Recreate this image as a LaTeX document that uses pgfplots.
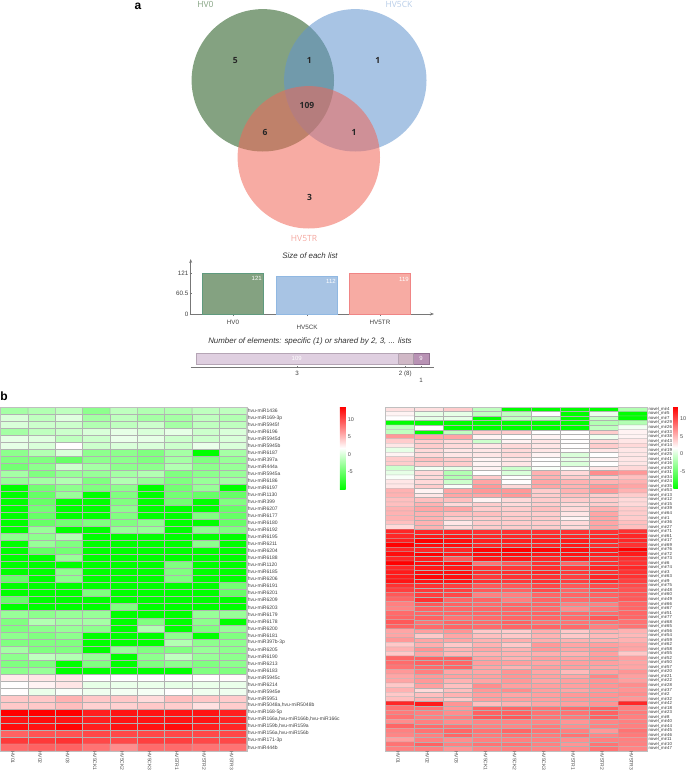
\documentclass[border=0pt]{standalone}
\usepackage{fontspec}
\setmainfont{Liberation Sans}
\newfontfamily\vennfont{Open Sans}
\usepackage{pgfplots}
\pgfplotsset{compat=1.18}
\usetikzlibrary{arrows.meta}
\newcommand\fs[1]{\fontsize{#1}{#1}\selectfont}
\newcommand\nm[1]{novel\_mir#1}
\definecolor{venngreen}{HTML}{1F561A}
\definecolor{vennblue}{HTML}{6194CE}
\definecolor{vennred}{HTML}{F06658}
\definecolor{axisgray}{HTML}{777777}
\definecolor{hvg}{HTML}{84A281}
\definecolor{hvgd}{HTML}{5F9A7E}
\definecolor{hvb}{HTML}{A8C4E4}
\definecolor{hvbd}{HTML}{90B8E2}
\definecolor{hvbl}{HTML}{B8CDE8}
\definecolor{hvr}{HTML}{F7ABA3}
\definecolor{hvrd}{HTML}{F08585}
\definecolor{hvrl}{HTML}{F4A8A0}
\definecolor{seg1}{HTML}{DFCFE0}
\definecolor{seg1d}{HTML}{B5A5B5}
\definecolor{seg2}{HTML}{D0B8C6}
\definecolor{seg2d}{HTML}{A899A5}
\definecolor{seg3}{HTML}{B892B4}
\definecolor{seg3d}{HTML}{907090}
\tikzset{vnum/.style={font=\vennfont\bfseries\fs{8.5}, text=black!85}}
\pgfplotsset{
  colormap={gwr}{rgb255(0cm)=(0,255,0); rgb255(1cm)=(255,255,255); rgb255(2cm)=(255,0,0)},
  venn/.style={only marks, mark=*, mark size=71.2pt, mark options={solid, fill=#1, draw opacity=0, line width=0pt, fill opacity=.55}},
  heatmap/.style={
    scale only axis, anchor=north west, y dir=reverse,
    xmin=-0.5, xmax=8.5,
    colormap name=gwr, point meta min=-10, point meta max=13.5,
    xtick={0,...,8},
    xticklabels={HV01,HV02,HV03,HV5CK1,HV5CK2,HV5CK3,HV5TR1,HV5TR2,HV5TR3},
    xticklabel style={rotate=-90, anchor=west, font=\fs{5}, text=black!70, inner sep=0pt, yshift=-1.5pt},
    yticklabel pos=right,
    yticklabel style={anchor=west, font=\fs{5}, text=black!75, inner sep=0pt, xshift=1pt},
    major tick length=0pt, tick style={draw=none},
    axis line style={draw=gray!50},
    colorbar,
  },
  cbar/.style={
    anchor=north west, height=82.3pt, width=#1,
    ytick={-5,0,5,10}, yticklabels={-5,0,5,10},
    yticklabel style={font=\fs{5.5}, text=black!70, inner sep=0pt, xshift=2pt},
    major tick length=0pt, tick style={draw=none},
    axis line style={draw=none},
  },
}
\begin{document}
\begin{tikzpicture}[x=1pt,y=1pt]
\useasboundingbox (0,0) rectangle (685,-773);

% panel a, venn: circles at pixel positions
\begin{axis}[at={(130pt,0pt)}, anchor=north west, scale only axis, width=340pt, height=250pt,
  xmin=130, xmax=470, ymin=0, ymax=250, y dir=reverse, hide axis, clip=false]
\addplot[venn=venngreen] coordinates {(262.8,80.3)};
\addplot[venn=vennblue] coordinates {(355.3,80.3)};
\addplot[venn=vennred] coordinates {(308.8,157.3)};
\end{axis}
\node[vnum] at (235.3,-60.7) {5};
\node[vnum] at (309.3,-60.7) {1};
\node[vnum] at (377.7,-60.7) {1};
\node[vnum] at (307,-105) {109};
\node[vnum] at (265,-132) {6};
\node[vnum] at (354,-132) {1};
\node[vnum] at (309.5,-197.7) {3};
\node[font=\vennfont\fs{8.5}, text=hvg] at (205.5,-4) {HV0};
\node[font=\vennfont\fs{8.5}, text=hvbl] at (399,-4) {HV5CK};
\node[font=\vennfont\fs{8.5}, text=hvrl] at (304,-239) {HV5TR};
\node[font=\bfseries\fs{12}] at (138,-6) {a};
\node[font=\bfseries\fs{12}] at (4,-396) {b};

% list sizes
\node[font=\itshape\fs{7.9}, text=black!80] at (310,-256) {Size of each list};
\begin{axis}[at={(190.7pt,-314pt)}, anchor=south west, scale only axis, width=243.3pt, height=55pt,
  xmin=190.7, xmax=434, ymin=0, ymax=162.3,
  axis x line=bottom, axis y line=left, axis line style={draw=axisgray, line width=.7pt, -{Stealth[length=4pt]}},
  xtick={233,307,380}, xticklabels={HV0,\rule{0pt}{10.2pt}HV5CK,HV5TR},
  ytick={0,60.5,121}, yticklabels={0,60.5,121},
  tick style={draw=axisgray}, major tick length=2pt,
  tick label style={font=\fs{6.3}, text=black!75, inner sep=1pt},
  xticklabel style={yshift=-2.5pt},
  ybar, bar width=61pt, bar shift=0pt,
  nodes near coords, /pgf/number format/assume math mode=true,
  every node near coord/.append style={font=\fs{6}, text=white, anchor=north east, xshift=29pt, yshift=-3pt, inner sep=0pt}]
\addplot[fill=hvg, draw=hvgd, line width=.6pt] coordinates {(233,121)};
\addplot[fill=hvb, draw=hvbd, line width=.6pt] coordinates {(307,112)};
\addplot[fill=hvr, draw=hvrd, line width=.6pt] coordinates {(380,119)};
\end{axis}

% shared elements
\node[font=\itshape\fs{7.9}, text=black!80] at (310,-341) {Number of elements: specific (1) or shared by 2, 3, ... lists};
\begin{axis}[at={(190.7pt,-367.7pt)}, anchor=south west, scale only axis, width=243.3pt, height=16pt,
  xmin=-3, xmax=128.5, ymin=0, ymax=16,
  axis x line*=bottom, axis y line=none, axis line style={draw=axisgray, line width=.6pt},
  xtick={54.5,113,121.5}, xticklabels={3,2 (8),\rule{0pt}{10.8pt}1},
  tick style={draw=axisgray}, major tick length=2pt,
  tick label style={font=\fs{6.2}, text=black!75, inner sep=1pt},
  xticklabel style={yshift=-2.5pt},
  xbar stacked, bar width=11.5pt]
\addplot[fill=seg1, draw=seg1d] coordinates {(109,9)};
\addplot[fill=seg2, draw=seg2d] coordinates {(8,9)};
\addplot[fill=seg3, draw=seg3d] coordinates {(9,9)};
\end{axis}
\node[font=\fs{6}, text=white] at (296.7,-358.7) {109};
\node[font=\fs{6}, text=white] at (421,-358.7) {9};

% panel b, known miRNAs
\begin{axis}[heatmap, at={(0.7pt,-407.3pt)}, width=246pt, height=343.7pt,
  ymin=-0.5, ymax=48.5, ytick={0,...,48},
  yticklabels={hvu-miR1436,hvu-miR169-3p,hvu-miR5945f,hvu-miR6196,hvu-miR5945d,hvu-miR5945b,hvu-miR6187,hvu-miR397a,hvu-miR444a,hvu-miR5945a,hvu-miR6186,hvu-miR6197,hvu-miR1130,hvu-miR399,hvu-miR6207,hvu-miR6177,hvu-miR6180,hvu-miR6192,hvu-miR6195,hvu-miR6211,hvu-miR6204,hvu-miR6188,hvu-miR1120,hvu-miR6185,hvu-miR6206,hvu-miR6191,hvu-miR6201,hvu-miR6209,hvu-miR6203,hvu-miR6179,hvu-miR6178,hvu-miR6200,hvu-miR6181,hvu-miR397b-3p,hvu-miR6205,hvu-miR6190,hvu-miR6213,hvu-miR6183,hvu-miR5945c,hvu-miR6214,hvu-miR5945e,hvu-miR5951,{hvu-miR5048a,hvu-miR5048b},hvu-miR168-5p,{hvu-miR166a,hvu-miR166b,hvu-miR166c},{hvu-miR159b,hvu-miR159a},{hvu-miR156a,hvu-miR156b},hvu-miR171-3p,hvu-miR444b},
  colorbar style={cbar=5.7pt, at={(1.379,1.001)}}]
\addplot[matrix plot, mesh/cols=9, draw=black!30, line width=.45pt, point meta=\thisrowno{0}]
  table[row sep=crcr, header=false, x expr={mod(\coordindex,9)}, y expr={floor((\coordindex+0.5)/9)}] {
-2.4\\-1.8\\-1.2\\-3.5\\-1.2\\-1.8\\-1.8\\-1.2\\-1.2\\
0\\-1.2\\.3\\-2.4\\-1.2\\-2.4\\-2.4\\-1.2\\-1.8\\
0\\-.6\\-.6\\-1.8\\-1.2\\-.6\\-2.4\\-1.2\\-1.2\\
-2.4\\-1.2\\-.6\\0\\.6\\0\\.6\\-.6\\0\\
.6\\.3\\-1.2\\-.6\\.8\\.6\\-.6\\-.6\\0\\
.6\\0\\1.8\\-.6\\0\\0\\-.6\\.8\\0\\
-3.5\\-1.8\\0\\-3.5\\-3.5\\-4.1\\-2.4\\-10\\-2.4\\
-4.1\\-4.1\\-5.3\\-3.5\\-3.5\\-4.1\\-2.4\\-4.1\\-3\\
-4.7\\-3.5\\-.6\\-2.4\\-3.5\\-3.5\\-1.8\\-3.5\\-3\\
-2.4\\-4.1\\-3\\-3\\-2.4\\-1.8\\-4.1\\-3.5\\-3\\
-3\\-2.4\\-1.8\\-4.1\\-1.8\\-3\\-4.1\\-3\\-2.4\\
-10\\-4.7\\-3.5\\-4.1\\-3.5\\-10\\-4.7\\-3\\-10\\
-10\\-5.3\\-3\\-10\\-4.1\\-10\\-4.7\\-5.3\\-5.3\\
-10\\-5.3\\-10\\-10\\-4.1\\-10\\-4.7\\-10\\-4.1\\
-10\\-4.7\\-10\\-10\\-3.5\\-10\\-10\\-10\\-5.3\\
-10\\-5.3\\-10\\-10\\-4.1\\-10\\-10\\-4.1\\-5.3\\
-10\\-5.3\\-4.7\\-4.1\\-4.1\\-3.5\\-10\\-10\\-5.3\\
-10\\-3\\-10\\-10\\-3\\-3\\-10\\-3.5\\-4.1\\
-3.5\\-3.5\\-1.8\\-10\\-10\\-10\\-10\\-10\\-10\\
-10\\-3\\-4.1\\-10\\-10\\-10\\-10\\-3.5\\-10\\
-10\\-5.3\\-4.7\\-10\\-10\\-10\\-10\\-10\\-10\\
-10\\-10\\-3\\-10\\-10\\-10\\-10\\-10\\-10\\
-10\\-10\\-10\\-10\\-10\\-10\\-4.1\\-10\\-10\\
-10\\-10\\-3.5\\-10\\-10\\-10\\-4.1\\-10\\-10\\
-5.3\\-10\\-3.5\\-10\\-10\\-10\\-4.1\\-10\\-10\\
-10\\-10\\-10\\-10\\-10\\-10\\-10\\-10\\-4.7\\
-10\\-10\\-10\\-4.1\\-10\\-10\\-10\\-10\\-5.3\\
-5.3\\-10\\-10\\-10\\-10\\-10\\-10\\-10\\-10\\
-10\\-10\\-10\\-10\\-4.1\\-10\\-10\\-10\\-10\\
-3\\-3.5\\-3\\-3\\-10\\-10\\-10\\-3\\-3\\
-4.1\\-1.8\\-2.4\\-2.4\\-10\\-4.1\\-10\\-3.5\\-10\\
-4.1\\-3.5\\-3\\-3.5\\-10\\-1.8\\-10\\-4.1\\-3\\
-3.5\\-4.1\\-3.5\\-10\\-10\\-10\\-3.5\\-10\\-4.1\\
-4.1\\-4.1\\-4.1\\-10\\-10\\-10\\-1.8\\-3.5\\-3.5\\
-2.4\\-4.1\\-4.1\\-10\\-3\\-4.1\\-4.1\\-3\\-3.5\\
-3.5\\-1.2\\-1.8\\-3\\-10\\-3.5\\-1.2\\-3\\-3.5\\
-4.1\\-4.1\\-10\\-4.1\\-10\\-4.1\\-3.5\\-4.1\\-3.5\\
-3.5\\-3\\-10\\-10\\-10\\-10\\-10\\-4.1\\-4.1\\
2.7\\2.9\\2.9\\1.8\\1.8\\1.8\\1.8\\1.8\\1.9\\
1.8\\2.3\\2.9\\.6\\.8\\.8\\.6\\.8\\.8\\
1.8\\.8\\1.5\\1\\1.2\\1.3\\1.8\\1\\1\\
4.3\\4.3\\5.3\\4.3\\4.3\\3.4\\4.7\\4.3\\4.1\\
4.3\\4.3\\4.8\\3.9\\3.9\\4.3\\4.1\\3.2\\4.1\\
13.5\\13.5\\13.5\\12.1\\12.6\\12.6\\12.6\\12.6\\12.1\\
12.6\\12.9\\12.6\\12.1\\12.6\\12.6\\12.6\\12.6\\12.1\\
12.9\\12.6\\13.3\\12.1\\12.6\\12.6\\12.9\\12.1\\11.7\\
9\\9.7\\9.7\\10.2\\10.2\\10.2\\10.2\\10.2\\10.2\\
10.9\\10.9\\11.2\\10.2\\10.2\\10.6\\10.6\\10.2\\10.2\\
8.6\\9\\9\\8.2\\7\\8.6\\8.6\\8.2\\8.2\\
};
\end{axis}

% panel b, novel miRNAs
\begin{axis}[heatmap, at={(385pt,-407pt)}, width=262.3pt, height=344pt,
  ymin=-0.5, ymax=75.5, ytick={0,...,75},
  yticklabel style={font=\fs{4.3}, text=black!80},
  yticklabels={\nm{4},\nm{5},\nm{7},\nm{29},\nm{26},\nm{33},\nm{38},\nm{43},\nm{14},\nm{19},\nm{25},\nm{41},\nm{16},\nm{30},\nm{31},\nm{34},\nm{24},\nm{35},\nm{53},\nm{13},\nm{12},\nm{15},\nm{39},\nm{64},\nm{1},\nm{36},\nm{27},\nm{71},\nm{61},\nm{17},\nm{69},\nm{76},\nm{72},\nm{73},\nm{6},\nm{74},\nm{3},\nm{63},\nm{9},\nm{75},\nm{48},\nm{60},\nm{49},\nm{66},\nm{67},\nm{51},\nm{77},\nm{68},\nm{65},\nm{56},\nm{54},\nm{59},\nm{62},\nm{58},\nm{55},\nm{52},\nm{50},\nm{57},\nm{20},\nm{21},\nm{22},\nm{28},\nm{37},\nm{2},\nm{32},\nm{42},\nm{18},\nm{23},\nm{8},\nm{40},\nm{44},\nm{45},\nm{46},\nm{11},\nm{10},\nm{47}},
  colorbar style={cbar=4.7pt, at={(1.099,1.001)}}]
\addplot[matrix plot, mesh/cols=9, draw=black!30, line width=.25pt, point meta=\thisrowno{0}]
  table[row sep=crcr, header=false, x expr={mod(\coordindex,9)}, y expr={floor((\coordindex+0.5)/9)}] {
3.2\\3.2\\4.1\\-1.2\\-10\\-10\\-10\\-10\\-1.8\\
2.3\\.6\\.6\\-1.2\\-1.2\\1.8\\-10\\.8\\-10\\
1.8\\.6\\.6\\-10\\-1.2\\-1.2\\-10\\-1.2\\-10\\
-10\\-10\\-10\\-10\\-10\\-10\\-10\\-1.8\\-1.8\\
-1.2\\1.8\\-10\\-10\\-10\\-10\\-10\\-1.2\\1.2\\
-1.2\\-10\\-1.2\\4.1\\4.1\\1.8\\1.8\\4.1\\2.3\\
6.5\\5.9\\5.9\\2.3\\1.8\\2.3\\1.8\\1\\2.3\\
4.1\\4.1\\3.5\\-.6\\2.3\\2.9\\1.8\\3.5\\2.9\\
2.9\\4.1\\3.5\\2.9\\3.5\\2.9\\1.8\\4.1\\3.5\\
.6\\3.5\\2.9\\2.9\\3.5\\2.9\\1.8\\2.9\\2.9\\
2.3\\3.5\\2.9\\2.9\\3.5\\2.3\\0\\1.8\\2.9\\
4.1\\4.7\\4.1\\2.3\\2.9\\1.8\\.6\\2.3\\2.9\\
4.1\\4.1\\4.1\\2.3\\2.9\\1.8\\0\\1.8\\2.9\\
-.6\\1.2\\.6\\2.3\\-.6\\1.5\\1.8\\2.9\\3.5\\
.6\\3.5\\-1.8\\1.8\\0\\5.3\\3.5\\7\\6.5\\
1.5\\3.5\\-1.8\\4.1\\1.8\\5.3\\4.1\\4.1\\4.7\\
2.9\\3.5\\-.6\\5.9\\1.8\\5.9\\5.3\\5.3\\5.3\\
2.9\\4.1\\1.5\\6.5\\3.5\\5.9\\5.3\\6.5\\5.9\\
5.3\\2.3\\5.9\\6.5\\6.5\\4.1\\5.3\\6.5\\5.3\\
5.3\\2.9\\5.9\\5.9\\6.5\\4.1\\4.7\\4.1\\4.1\\
4.7\\4.7\\4.7\\2.3\\3.5\\4.1\\4.1\\4.1\\3.5\\
4.7\\5.3\\3.5\\4.1\\3.5\\4.1\\3.5\\4.1\\3.5\\
5.3\\5.9\\5.9\\4.1\\4.1\\4.7\\3.5\\5.3\\4.1\\
5.3\\5.3\\4.7\\4.7\\4.1\\4.1\\2.9\\5.9\\4.1\\
5.3\\5.3\\4.1\\4.1\\4.1\\4.1\\2.3\\5.9\\4.1\\
4.7\\5.3\\2.9\\4.1\\4.1\\4.1\\3.5\\5.9\\4.7\\
3.5\\5.3\\3.5\\4.1\\4.1\\4.1\\3.5\\5.9\\4.7\\
11.7\\11.7\\11.7\\11.2\\11.2\\11.2\\11.2\\11.2\\11.2\\
11.7\\12.3\\12.3\\11.7\\11.7\\11.7\\11.7\\11.7\\11.7\\
12.1\\13.5\\12.9\\12.1\\12.1\\12.1\\12.3\\11.7\\11.7\\
13.5\\12.9\\12.9\\11.7\\11.7\\11.7\\12.3\\11.4\\11.2\\
11.7\\11.7\\11.7\\13.3\\13.5\\13.3\\12.9\\12.3\\13.5\\
12.9\\13.5\\12.3\\12.9\\12.9\\12.3\\12.6\\12.1\\12.3\\
11.7\\12.1\\9.4\\12.3\\12.3\\11.7\\12.1\\11.4\\11.4\\
13.5\\12.9\\12.9\\8.2\\9.4\\11.2\\8.8\\11.2\\11.2\\
11.7\\12.3\\12.3\\11.2\\10.9\\11.4\\10.9\\11.7\\11.7\\
12.3\\12.9\\12.9\\11.4\\11.4\\11.7\\10.9\\11.2\\11.2\\
12.3\\13.3\\12.9\\10.9\\11.2\\11.2\\10.6\\11.7\\11.2\\
12.6\\12.6\\12.6\\11.2\\10.9\\11.2\\10.6\\11.4\\10.6\\
11.2\\11.2\\10.6\\9.4\\9.4\\10.2\\9.4\\10\\10\\
10.6\\10.9\\10.6\\9.4\\9\\10\\8.8\\9.7\\9.7\\
9.4\\10.6\\10.2\\7.6\\7.6\\8.8\\8.8\\9\\9.4\\
8.8\\11.2\\8.8\\8.8\\7.6\\8.8\\8.6\\8.8\\9.4\\
7.6\\9.4\\9\\8.6\\8.8\\8.8\\7.6\\7.6\\8.8\\
7.4\\9\\8.8\\8.8\\8.8\\8.6\\7\\7.9\\8.8\\
8.6\\8.8\\8.8\\8.8\\8.8\\9\\8.6\\8.6\\8.8\\
8.8\\9\\8.2\\8.6\\8.8\\8.8\\8.6\\9.4\\8.8\\
9.4\\8.2\\8.8\\8.6\\9\\8.2\\8.2\\8.2\\8.2\\
9\\8.6\\8.8\\8.6\\8.8\\8.8\\8.6\\7.6\\8.2\\
5.9\\6.2\\6.7\\4.3\\4.1\\5.5\\4.3\\5.3\\5.3\\
5.9\\4.3\\5.9\\4.7\\4.3\\5.3\\4.3\\5\\5\\
6.5\\5.9\\5.9\\5.3\\5.5\\5.5\\5.3\\5.3\\5.3\\
4.3\\5.5\\4.3\\5.3\\4.3\\6.5\\5.9\\6.2\\5.9\\
5.3\\6.7\\5.3\\5.9\\5.3\\6.5\\5.9\\6.5\\5.9\\
4.3\\5.9\\5\\5.3\\5.3\\5.5\\5.3\\6.2\\4.3\\
8.8\\9\\9\\5.9\\5.3\\6.2\\5.9\\6.5\\6.2\\
8.6\\9\\8.8\\6.2\\6.2\\5.9\\6.2\\6.2\\5.9\\
8.2\\8.6\\8.8\\5.9\\5.3\\6.2\\6.2\\5.9\\5.9\\
6.5\\7.6\\5.9\\5.9\\6.7\\5.9\\5\\6.2\\6.7\\
5.9\\6.5\\6.2\\6.2\\6.7\\6.2\\5.9\\7.4\\6.2\\
5.9\\6.5\\5.3\\5.9\\6.5\\5.9\\6.2\\6.7\\6.2\\
4.3\\6.2\\4.7\\7\\6.2\\6.2\\6.2\\6.7\\7\\
5.3\\3.5\\4.7\\6.5\\7\\6.2\\5.9\\6.5\\6.7\\
4.3\\4.7\\5.3\\6.2\\5.9\\6.2\\6.5\\6.7\\7\\
4.7\\5.3\\4.3\\6.2\\6.2\\6.2\\6.5\\6.7\\6.5\\
11.7\\12.3\\6.7\\4.7\\5.3\\5.9\\6.2\\6.7\\11.7\\
8.2\\8.2\\6.5\\8.8\\8.8\\8.2\\8.6\\9\\7.6\\
7.9\\7.6\\7\\9\\9\\8.2\\8.2\\9\\7.9\\
8.2\\7.6\\7.6\\9.4\\9.4\\8.2\\7.9\\9\\7.6\\
7\\7.6\\7\\7.4\\7.4\\7.4\\6.7\\7.4\\7.6\\
8.8\\8.6\\8.2\\7.6\\7.4\\7.9\\7\\7.6\\7.6\\
7.6\\8.2\\8.8\\8.2\\8.8\\8.2\\7.6\\6.5\\8.2\\
7.4\\7.6\\8.8\\7.9\\8.2\\7.9\\8.2\\7.4\\7.9\\
6.2\\7.6\\7\\7.6\\7.6\\7.6\\7\\7.6\\7.6\\
8.2\\9\\7.6\\8.2\\8.2\\7.6\\6.7\\8.2\\7.6\\
7.6\\7.6\\6.7\\7.4\\7.6\\7.4\\7\\8.2\\7.4\\
};
\end{axis}
\end{tikzpicture}
\end{document}
